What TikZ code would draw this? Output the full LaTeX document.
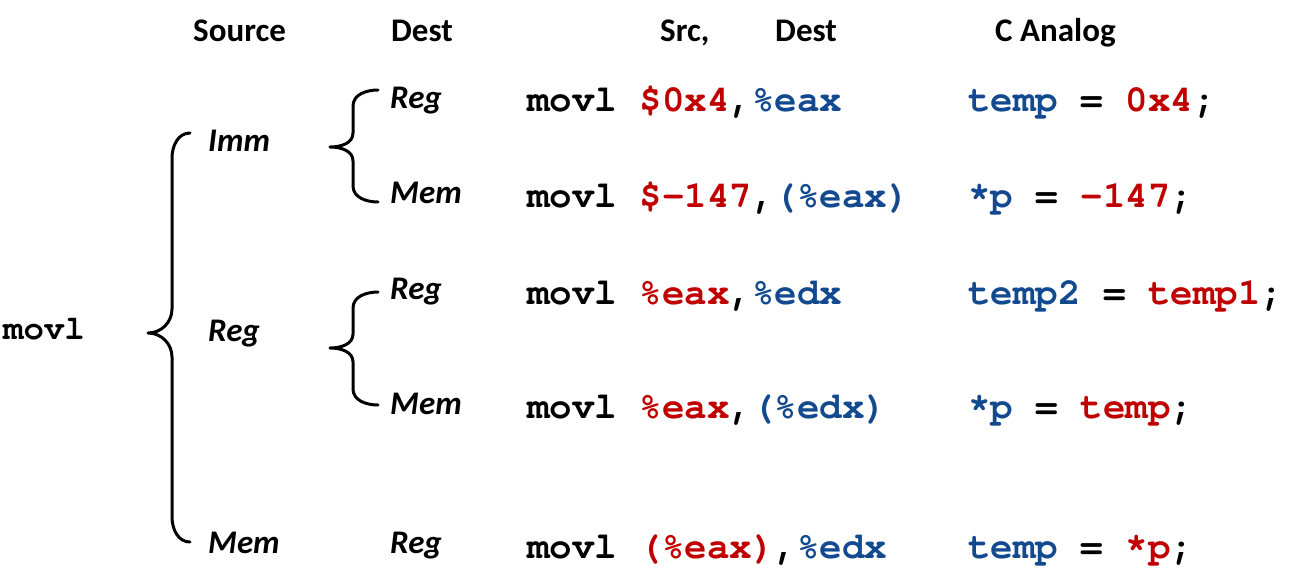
\documentclass[tikz,border=0pt]{standalone}
\usepackage{fontspec}
\setmainfont{Carlito}
\newfontfamily\codefont{texgyrecursor}[Extension=.otf, UprightFont=*-regular, BoldFont=*-bold]
\definecolor{cred}{HTML}{C00000}
\definecolor{cblue}{HTML}{13498F}
\newcommand{\R}[1]{\textcolor{cred}{#1}}
\newcommand{\B}[1]{\textcolor{cblue}{#1}}
\tikzset{
  head/.style={font=\fontsize{33}{40}\selectfont\bfseries, anchor=base west, inner sep=0pt},
  lab/.style={font=\fontsize{33}{40}\selectfont\bfseries\itshape, anchor=base west, inner sep=0pt},
  code/.style={font=\fontsize{37.5}{45}\selectfont\codefont\bfseries, anchor=base west, inner sep=0pt},
  brace/.style={line width=3pt, line cap=round, line join=round}
}
\begin{document}
\begin{tikzpicture}[x=1pt,y=-1pt]
\useasboundingbox (0,0) rectangle (1289,576);
% headers
\node[head] (hsrc) at (193,41) {Source};
\node[head] (hdest) at (391,41) {Dest};
\node[head] (hsrc2) at (660,41) {Src,};
\node[head] (hdest2) at (775,41) {Dest};
\node[head] (hc) at (995,41) {C Analog};
% left
\node[code, font=\fontsize{34}{40}\selectfont\codefont\bfseries] (mv) at (3,339) {movl};
% source labels
\node[lab] (simm) at (208,151) {Imm};
\node[lab] (sreg) at (208,341) {Reg};
\node[lab] (smem) at (208,553) {Mem};
% dest labels
\node[lab] (d1) at (390,108) {Reg};
\node[lab] (d2) at (390,203) {Mem};
\node[lab] (d3) at (390,299) {Reg};
\node[lab] (d4) at (390,414) {Mem};
\node[lab] (d5) at (390,553) {Reg};
% code
\node[code] (c1) at (527,111) {movl \R{\$0x4},\B{\%eax}};
\node[code] (c2) at (527,207) {movl \R{\$-147},\B{(\%eax)}};
\node[code] (c3) at (527,304) {movl \R{\%eax},\B{\%edx}};
\node[code] (c4) at (527,418) {movl \R{\%eax},\B{(\%edx)}};
\node[code] (c5) at (527,558) {movl \R{(\%eax)},\B{\%edx}};
% C analog
\node[code] (a1) at (968,111) {\B{temp} = \R{0x4};};
\node[code] (a2) at (968,207) {\B{*p} = \R{-147};};
\node[code] (a3) at (968,304) {\B{temp2} = \R{temp1};};
\node[code] (a4) at (968,418) {\B{*p} = \R{temp};};
\node[code] (a5) at (968,558) {\B{temp} = \R{*p};};
% big brace
\coordinate (bT) at (190,133);
\coordinate (bM) at (148,333);
\coordinate (bB) at (190,542);
\draw[brace] (bT) to[out=180,in=90] (172,158) -- (172,309) to[out=-90,in=0] (bM)
  to[out=0,in=90] (172,357) -- (172,517) to[out=-90,in=180] (bB);
% small brace 1
\coordinate (s1T) at (378,90);
\coordinate (s1M) at (330,147);
\coordinate (s1B) at (378,202);
\draw[brace] (s1T) to[out=180,in=90] (353,106) -- (353,133) to[out=-90,in=0] (s1M)
  to[out=0,in=90] (353,161) -- (353,186) to[out=-90,in=180] (s1B);
% small brace 2
\coordinate (s2T) at (378,292);
\coordinate (s2M) at (330,348);
\coordinate (s2B) at (378,405);
\draw[brace] (s2T) to[out=180,in=90] (353,308) -- (353,334) to[out=-90,in=0] (s2M)
  to[out=0,in=90] (353,362) -- (353,389) to[out=-90,in=180] (s2B);
\end{tikzpicture}
\end{document}
